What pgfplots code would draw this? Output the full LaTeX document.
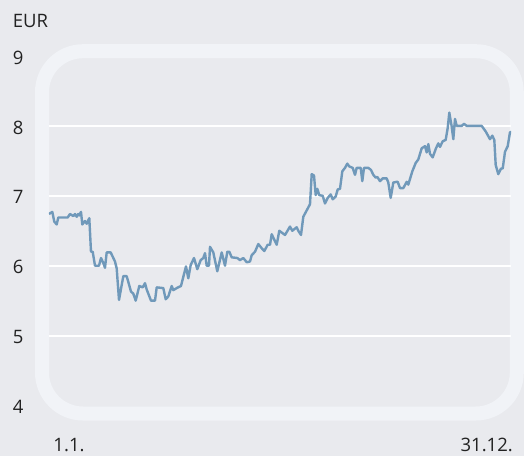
\documentclass[border=0pt]{standalone}
\usepackage{fontspec}
\setmainfont{Open Sans}
\usepackage{pgfplots}
\pgfplotsset{compat=1.18}
\definecolor{bg}{HTML}{E9EAEE}
\definecolor{frame}{HTML}{F1F3F7}
\definecolor{line}{HTML}{7099BA}
\definecolor{txt}{HTML}{222222}
\begin{document}
\begin{tikzpicture}
\fill[bg] (-49pt,-50.5pt) rectangle (475pt,405.5pt);
\useasboundingbox (-49pt,-50.5pt) rectangle (475pt,405.5pt);
\draw[color=frame, line width=14pt, rounded corners=41pt] (-7pt,-8pt) rectangle (467.8pt,354.3pt);
\node[anchor=base west, inner sep=0pt, text=txt, font=\fontsize{18.5}{22}\selectfont] at (-36.3pt,378.2pt) {EUR};
\begin{axis}[
  at={(0pt,0pt)}, anchor=south west,
  scale only axis, width=462pt, height=349.5pt,
  xmin=0, xmax=462, ymin=4, ymax=9,
  axis line style={draw=none},
  tick style={draw=none},
  ytick={5,6,7,8},
  extra y ticks={4,9},
  extra y tick style={grid=none},
  ymajorgrids,
  grid style={white, line width=2pt},
  xtick={20,437.7},
  xticklabels={1.1.,31.12.},
  /pgf/number format/assume math mode=true,
  ticklabel style={font=\fontsize{18.5}{22}\selectfont, text=txt, inner sep=0pt},
  yticklabel style={anchor=west, xshift=-36.3pt, yshift=-1.5pt},
  xticklabel style={anchor=base, yshift=-46.2pt},
]
\addplot[color=line, line width=2.4pt, line join=round, no marks] coordinates {
(0,6.74) (3.3,6.77) (5.3,6.63) (7.7,6.59) (9.3,6.69) (18.7,6.69) (21,6.74) (24.3,6.71) (26,6.74) (27.7,6.70) (29.3,6.74) (30.3,6.72) (32,6.77) (33.3,6.59) (36,6.64) (37.7,6.60) (40.3,6.68) (42,6.20) (43.7,6.20) (46,6.00) (50,6.00) (52,6.11) (54.3,6.04) (56,5.97) (57.7,6.19) (61.7,6.19) (66,6.06) (67.7,5.96) (70,5.51) (74.3,5.85) (77.7,5.85) (82,5.63) (84.3,5.60) (86.7,5.50) (90.3,5.71) (93.7,5.69) (96,5.75) (97.7,5.66) (102,5.50) (106,5.50) (107.7,5.69) (114.3,5.68) (116.7,5.52) (119.3,5.56) (122.7,5.71) (124.3,5.65) (127.7,5.68) (132,5.71) (134.3,5.84) (137,5.99) (139.3,5.82) (141.7,6.01) (145,6.11) (148.3,5.95) (151.7,6.08) (154.3,6.11) (156,6.18) (157.7,6.00) (160,6.00) (161,6.27) (164.3,6.19) (168.3,5.92) (172.7,6.19) (176,6.00) (178.3,6.20) (180.3,6.20) (182.7,6.12) (188.3,6.11) (191,6.08) (194.3,6.11) (197.7,6.05) (201,6.06) (202.7,6.15) (206,6.20) (209.3,6.31) (212.7,6.25) (215.3,6.21) (218.7,6.30) (221,6.30) (222.7,6.45) (227.7,6.30) (230.3,6.50) (236,6.44) (241,6.56) (243.3,6.50) (247.7,6.55) (249.3,6.50) (252,6.44) (254.3,6.70) (261,6.88) (262.7,7.31) (265,7.29) (266.7,7.01) (268.3,7.10) (270.3,7.01) (273.7,7.00) (276,6.89) (278.7,6.97) (281.7,7.02) (283.7,6.95) (286.7,6.99) (288.7,7.09) (291,7.10) (293.3,7.35) (296,7.40) (298.3,7.46) (300.3,7.42) (303.7,7.40) (306,7.30) (307.7,7.40) (311.7,7.40) (313.3,7.21) (315,7.40) (319.3,7.40) (322,7.37) (324.3,7.30) (326.7,7.26) (328.3,7.27) (331,7.21) (333.7,7.25) (337.7,7.25) (339.3,7.19) (341.7,6.97) (344.3,7.19) (347.7,7.20) (348.7,7.20) (351,7.11) (354.3,7.11) (357.7,7.20) (359.3,7.16) (363.3,7.35) (366.7,7.47) (369.3,7.52) (372.7,7.68) (376,7.71) (377.7,7.62) (379.3,7.74) (381,7.60) (383.7,7.55) (387,7.68) (389.3,7.75) (391,7.70) (393.7,7.78) (396.7,7.80) (398.7,7.97) (400.3,8.19) (402.7,7.99) (404.3,7.81) (406,8.10) (407.7,8.00) (412.7,8.00) (415,8.03) (417.7,8.00) (432.7,8.00) (436.7,7.92) (441,7.81) (443.3,7.86) (445.3,7.80) (446.7,7.44) (449.3,7.31) (452,7.39) (453.7,7.39) (456,7.63) (458.7,7.71) (461,7.91) (462,7.91)
};
\end{axis}
\end{tikzpicture}
\end{document}
